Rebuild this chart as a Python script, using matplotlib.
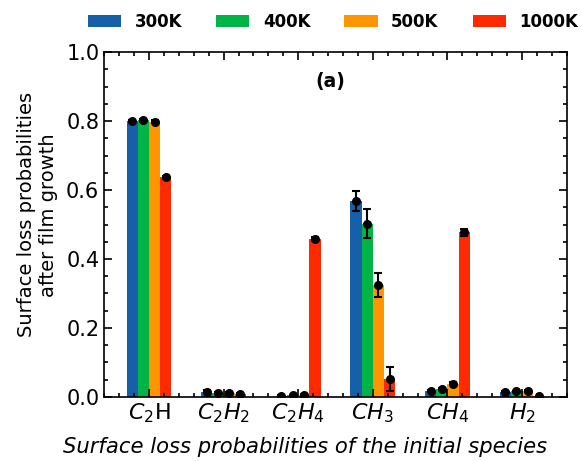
import numpy as np
import matplotlib
matplotlib.use("Agg")
import matplotlib.pyplot as plt
from matplotlib.ticker import MultipleLocator

# Species (x categories) and temperatures (series)
Species_list = ["$C_2$H", "$C_2H_2$", "$C_2H_4$", "$CH_3$", "$CH_4$", "$H_2$"]
Temp_list = ["300K", "400K", "500K", "1000K"]
Colour_list = ["#1560a8", "#00b545", "#ff9500", "#ff2a00"]

# Surface loss probabilities after film growth
P_300K = [0.800, 0.015, 0.003, 0.568, 0.016, 0.014]
P_400K = [0.802, 0.012, 0.005, 0.502, 0.022, 0.016]
P_500K = [0.798, 0.010, 0.007, 0.324, 0.038, 0.017]
P_1000K = [0.637, 0.008, 0.458, 0.052, 0.478, 0.003]

# Error bars
E_300K = [0.004, 0.004, 0.002, 0.029, 0.003, 0.002]
E_400K = [0.005, 0.003, 0.002, 0.042, 0.003, 0.002]
E_500K = [0.004, 0.003, 0.002, 0.035, 0.004, 0.002]
E_1000K = [0.004, 0.002, 0.005, 0.034, 0.010, 0.001]

P_all = [P_300K, P_400K, P_500K, P_1000K]
E_all = [E_300K, E_400K, E_500K, E_1000K]

fig = plt.figure(figsize=(5.82, 4.61), dpi=100)
ax = fig.add_axes([0.179, 0.139, 0.795, 0.748])

x = np.arange(len(Species_list))
width = 0.15
for i in range(len(Temp_list)):
    pos = x + (i - 1.5) * width
    ax.bar(pos, P_all[i], width, color=Colour_list[i], label=Temp_list[i])
    ax.errorbar(pos, P_all[i], yerr=E_all[i], fmt="o", color="black",
                markersize=5.5, capsize=3, elinewidth=1.5, capthick=1.5)

ax.set_xlim(-0.6, 5.6)
ax.set_ylim(0, 1.0)
ax.set_xticks(x)
ax.set_xticklabels(Species_list, fontsize=16)
ax.xaxis.set_minor_locator(MultipleLocator(0.2))
ax.yaxis.set_major_locator(MultipleLocator(0.2))
ax.yaxis.set_minor_locator(MultipleLocator(0.05))
ax.tick_params(axis="both", which="both", direction="in", top=True, right=True, width=1.2)
ax.tick_params(axis="both", which="major", length=6)
ax.tick_params(axis="both", which="minor", length=3)
ax.tick_params(axis="y", labelsize=15)
for s in ax.spines.values():
    s.set_linewidth(1.2)

ax.set_ylabel("Surface loss probabilities\nafter film growth", fontsize=14)
ax.yaxis.set_label_coords(-0.10, 0.528)
ax.set_xlabel("Surface loss probabilities of the initial species", fontsize=15.2, style="italic")
ax.xaxis.set_label_coords(0.434, -0.116)
ax.text(0.488, 0.915, "(a)", transform=ax.transAxes, fontsize=13.5, weight="bold", ha="center", va="center")

handles, labels = ax.get_legend_handles_labels()
fig.legend(handles, labels, loc="center", bbox_to_anchor=(333 / 582, 0.952), ncol=4, frameon=False,
           prop={"weight": "bold", "size": 12}, handlelength=2.0, handletextpad=0.8, columnspacing=2.05)

plt.savefig("out.png", dpi=100)
